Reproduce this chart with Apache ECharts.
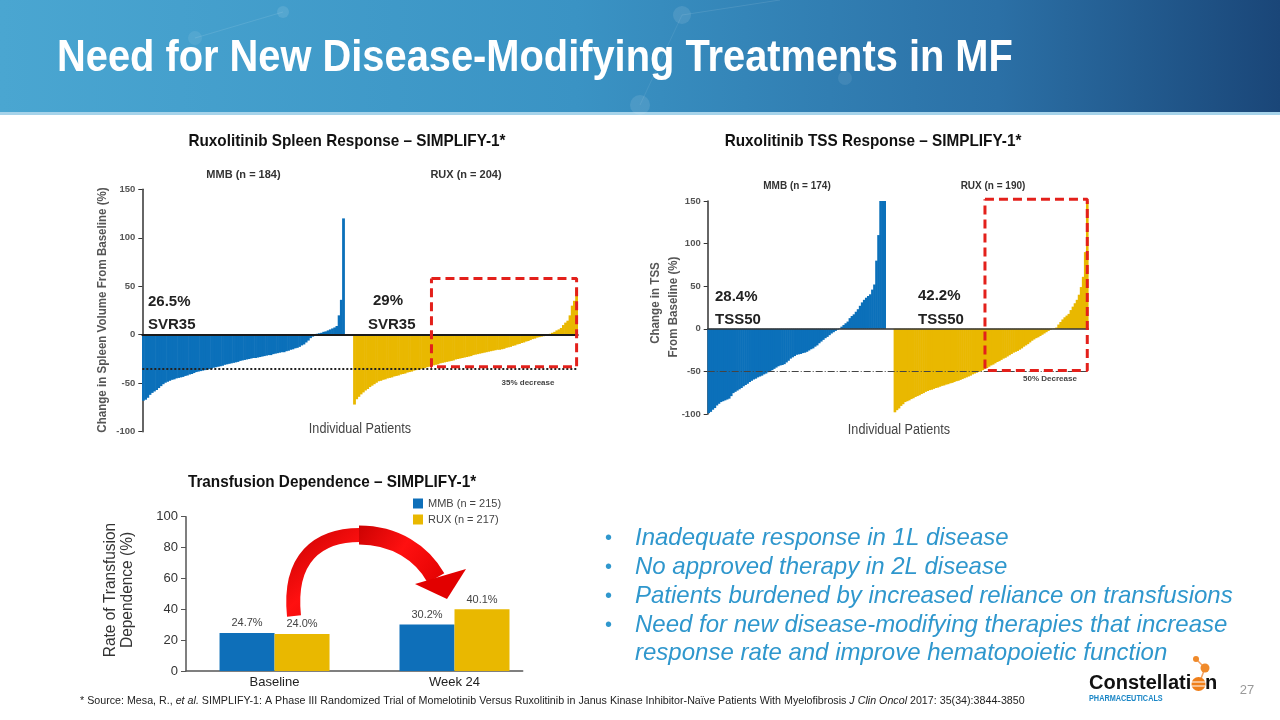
<!DOCTYPE html>
<html><head><meta charset="utf-8">
<script src="https://cdn.jsdelivr.net/npm/echarts@6/dist/echarts.min.js"></script>
<style>html,body{margin:0;padding:0;background:#fff}#c{width:1280px;height:720px}</style>
</head><body><div id="c"></div>
<script>
// ---- Data (each waterfall bar ≈ 2 patients, sorted) ----
const spleenMMB = [-68,-67,-65,-62,-60,-58.5,-57,-55,-53,-51,
 -49.5,-48.5,-47.5,-46.5,-46,-45,-44.5,-44,-43.5,-42.5,
 -42,-41,-40.5,-39.5,-38.5,-38,-37.5,-37,-36.5,-36,
 -35.5,-35,-34,-33.5,-33,-32.5,-32,-31,-30.5,-30,
 -29.5,-29,-28.5,-28,-27,-26.5,-26,-25.5,-25,-24.5,
 -24,-24,-23.5,-23,-22.5,-22,-21.5,-21,-21,-20,
 -19.5,-19,-18.5,-18,-18,-17,-16.5,-15.5,-15,-14,
 -13.5,-12.5,-11,-10,-8,-6,-3.5,-2,-0.5,1,
 1.5,2,3,3.5,4.5,5.5,6.5,7.5,9,20,
 36,120];
const spleenRUX = [-72,-66.5,-64,-61.5,-59.5,-57.5,-56,-54,-52.5,-51,
 -49.5,-48,-47.5,-46.5,-46,-45,-44.5,-44,-43,-42.5,
 -42,-41,-40.5,-40,-39,-38.5,-38,-37,-36.5,-36,
 -35.5,-35,-34.5,-33.5,-33,-32.5,-31.5,-31,-30.5,-29.5,
 -29,-28.5,-28,-27.5,-27,-26.5,-25.5,-25,-24.5,-24,
 -23.5,-23,-22.5,-22,-21,-20.5,-20,-19.5,-19,-18.5,
 -18,-17.5,-17,-16.5,-16,-15.5,-15.5,-15,-14.5,-13.5,
 -13,-12.5,-11.5,-11,-10,-9.5,-8.5,-8,-7,-6.5,
 -5.5,-4.5,-4,-3,-2.5,-2,-1.5,-1,-0.3,1,
 2,3,4.5,5.5,7,10,12.5,14.5,20,30,
 35,48];
const tssMMB = [-99,-97.5,-95,-93,-90,-88,-86,-85,-84,-83,
 -82,-79,-75.5,-74,-72.5,-71,-69.5,-67.5,-66,-64.5,
 -62.5,-61,-59.5,-58.5,-57,-56,-55,-53.5,-52.5,-51,
 -50,-48.5,-47,-45.5,-44,-43,-42.5,-41.5,-39.5,-37.5,
 -35,-33.5,-32,-30.5,-30,-29.5,-28.5,-28,-27,-25.5,
 -24,-23,-21,-19.5,-17,-15,-13,-11,-9.5,-7.5,
 -5.5,-4,-2.5,-1,0.5,2.5,4.5,6.5,8.5,12.5,
 15,17,20,23,27,31,34,36.5,38.5,40.5,
 46,52,80,110,150,150,150];
const tssRUX = [-98,-95.5,-93.5,-90.5,-88.5,-86,-85,-84,-82.5,-81.5,
 -80,-79,-78,-76.5,-75.5,-74,-73,-72,-71.5,-70.5,
 -69.5,-69,-68,-67,-66.5,-65.5,-65,-64,-63.5,-62.5,
 -61.5,-61,-60,-59,-58,-57,-56,-55,-53.5,-52.5,
 -51.5,-50.5,-50,-48.5,-47,-46,-44.5,-43,-42,-40.5,
 -39,-38,-36.5,-35,-34,-32.5,-31,-29.5,-28,-27,
 -26,-24.5,-23,-21,-19.5,-18,-16,-14,-12.5,-11,
 -10,-8.5,-7,-5.5,-4,-2.5,-1,-0.3,0.5,1.5,
 5,8,11,13.5,15.5,17.5,22,26,30,34,
 40,49,61,90,150];
const groupGap = 4;
const spleenThreshold = -35;
const tssThreshold = -50;
const spleenBox = { firstRux: 35, top: 58, bottom: -33 };   // highlighted region (RUX bars)
const tssBox = { firstRux: 44, top: 152, bottom: -49 };
const tdCategories = ['Baseline', 'Week 24'];
const tdMMB = [24.7, 30.2];
const tdRUX = [24.0, 40.1];
const tdNames = ['MMB (n = 215)', 'RUX (n = 217)'];

const BLUE = '#0b70ba', YELLOW = '#e9b800', RED = '#e3201b';
const FONT = 'Liberation Sans, Arial, sans-serif';

function buildWF(mmb, rux) {
  const cats = [], m = [], r = [];
  mmb.forEach((v, i) => { m.push([cats.length, v]); cats.push('M' + (i + 1)); });
  for (let i = 0; i < groupGap; i++) cats.push('G' + (i + 1));
  const ruxStart = cats.length;
  rux.forEach((v, i) => { r.push([cats.length, v]); cats.push('R' + (i + 1)); });
  return { cats, m, r, ruxStart, last: cats.length - 1 };
}
const sp = buildWF(spleenMMB, spleenRUX);
const ts = buildWF(tssMMB, tssRUX);

function boxData(wf, box) {
  const a = wf.ruxStart + box.firstRux, b = wf.last;
  return [[a, box.top], [b, box.top], [b, box.bottom], [a, box.bottom], [a, box.top]];
}

function T(text, x, y, o) {
  o = o || {};
  return { type: 'text', x, y, scaleX: o.sx || 1, rotation: o.rot || 0, silent: true, z: 20,
    style: { text, fill: o.color || '#222', fontSize: o.size || 12, fontWeight: o.weight || 'normal',
      fontStyle: o.style || 'normal', fontFamily: FONT, align: o.align || 'left', verticalAlign: 'middle' } };
}

const waterY = (gi) => ({ gridIndex: gi, type: 'value', min: -100, max: 150, interval: 50,
  axisLine: { show: true, onZero: false, lineStyle: { color: '#333', width: 1.5 } },
  axisTick: { show: true, length: 4, lineStyle: { color: '#333', width: 1 } },
  axisLabel: { color: '#555', fontSize: 9.5, fontFamily: FONT, margin: 7, fontWeight: 'bold' },
  splitLine: { show: false } });

// waterfall bars: one rect per value, placed by the axes (slightly widened so adjacent bars leave no seams)
const wfBars = (name, gi, data, color) => ({
  type: 'custom', name, xAxisIndex: gi, yAxisIndex: gi, data, silent: true, z: 2,
  encode: { x: 0, y: 1 },
  renderItem: (params, api) => {
    const i = api.value(0), v = api.value(1);
    const p0 = api.coord([i, 0]), p1 = api.coord([i, v]);
    const bw = api.size([1, 0])[0];
    return { type: 'rect', shape: { x: p0[0] - bw / 2 - 0.3, y: Math.min(p0[1], p1[1]), width: bw + 0.6,
      height: Math.abs(p1[1] - p0[1]) }, style: { fill: color } };
  }
});
const boxSeries = (name, gi, data, thr, lineType, lineColor, lineW) => ({
  type: 'line', name, xAxisIndex: gi, yAxisIndex: gi, data, symbol: 'none', clip: false, silent: true, z: 5,
  lineStyle: { color: RED, width: 3, type: [9, 5] },
  markLine: { silent: true, symbol: 'none', label: { show: false },
    lineStyle: { type: lineType, color: lineColor, width: lineW }, data: [{ yAxis: thr }] }
});

const arrowFill = new echarts.graphic.LinearGradient(0, 0, 1, 1, [
  { offset: 0, color: '#c40000' }, { offset: 0.5, color: '#ff1010' }, { offset: 1, color: '#e00000' }]);

const option = {
  animation: false,
  grid: [
    { left: 142.3, top: 189.3, width: 435.4, height: 242.4 },
    { left: 707.7, top: 201, width: 380.6, height: 213 },
    { left: 186, top: 516.7, width: 336.7, height: 154.3 }
  ],
  xAxis: [
    { gridIndex: 0, type: 'category', data: sp.cats, axisLine: { onZero: true, lineStyle: { color: '#1a1a1a', width: 2 } },
      axisTick: { show: false }, axisLabel: { show: false }, z: 3 },
    { gridIndex: 1, type: 'category', data: ts.cats, axisLine: { onZero: true, lineStyle: { color: '#333', width: 1.5 } },
      axisTick: { show: false }, axisLabel: { show: false }, z: 3 },
    { gridIndex: 2, type: 'value', min: -0.492, max: 1.379, splitLine: { show: false },
      axisLine: { show: true, onZero: false, lineStyle: { color: '#555', width: 1.5 } }, axisTick: { show: false },
      axisLabel: { customValues: [0, 1], formatter: v => tdCategories[Math.round(v)], color: '#222',
        fontSize: 13, fontFamily: FONT, margin: 5 } }
  ],
  yAxis: [
    waterY(0), waterY(1),
    { gridIndex: 2, type: 'value', min: 0, max: 100, interval: 20,
      axisLine: { show: true, onZero: false, lineStyle: { color: '#555', width: 1.5 } },
      axisTick: { show: true, length: 5, lineStyle: { color: '#555' } },
      axisLabel: { color: '#333', fontSize: 13, fontFamily: FONT, margin: 8 }, splitLine: { show: false } }
  ],
  legend: { data: tdNames, left: 413, top: 498, padding: 0, orient: 'vertical', itemWidth: 10, itemHeight: 10, itemGap: 5,
    icon: 'rect', selectedMode: false, textStyle: { fontSize: 11, color: '#444', fontFamily: FONT } },
  series: [
    wfBars('Spleen MMB', 0, sp.m, BLUE),
    wfBars('Spleen RUX', 0, sp.r, YELLOW),
    boxSeries('Spleen highlight', 0, boxData(sp, spleenBox), spleenThreshold, 'dotted', '#222', 2),
    wfBars('TSS MMB', 1, ts.m, BLUE),
    wfBars('TSS RUX', 1, ts.r, YELLOW),
    boxSeries('TSS highlight', 1, boxData(ts, tssBox), tssThreshold, [7, 2, 1, 2], '#444', 1),
    { type: 'bar', name: tdNames[0], xAxisIndex: 2, yAxisIndex: 2, barWidth: 55, barGap: '0%',
      data: tdCategories.map((c, i) => [i, tdMMB[i]]), itemStyle: { color: '#0e6fb9' },
      label: { show: true, position: 'top', distance: 4, formatter: p => p.value[1].toFixed(1) + '%',
        color: '#444', fontSize: 11, fontFamily: FONT } },
    { type: 'bar', name: tdNames[1], xAxisIndex: 2, yAxisIndex: 2, barWidth: 55, barGap: '0%',
      data: tdCategories.map((c, i) => [i, tdRUX[i]]), itemStyle: { color: YELLOW },
      label: { show: true, position: 'top', distance: 4, formatter: p => p.value[1].toFixed(1) + '%',
        color: '#444', fontSize: 11, fontFamily: FONT } }
  ],
  graphic: { elements: [
    { type: 'rect', silent: true, z: 1, shape: { x: 0, y: 0, width: 1280, height: 113 },
      style: { fill: new echarts.graphic.LinearGradient(0, 0, 1, 0, [
        { offset: 0, color: '#4aa6d1' }, { offset: 0.45, color: '#3a93c4' },
        { offset: 0.78, color: '#2b70a6' }, { offset: 1, color: '#1a4678' }]) } },
    { type: 'rect', silent: true, z: 1, shape: { x: 0, y: 112, width: 1280, height: 3 }, style: { fill: '#a6d3ea' } },
    { type: 'circle', silent: true, z: 2, shape: { cx: 283, cy: 12, r: 6 }, style: { fill: 'rgba(255,255,255,0.10)' } },
    { type: 'circle', silent: true, z: 2, shape: { cx: 682, cy: 15, r: 9 }, style: { fill: 'rgba(255,255,255,0.10)' } },
    { type: 'circle', silent: true, z: 2, shape: { cx: 640, cy: 105, r: 10 }, style: { fill: 'rgba(255,255,255,0.10)' } },
    { type: 'circle', silent: true, z: 2, shape: { cx: 845, cy: 78, r: 7 }, style: { fill: 'rgba(255,255,255,0.08)' } },
    { type: 'circle', silent: true, z: 2, shape: { cx: 195, cy: 38, r: 7 }, style: { fill: 'rgba(255,255,255,0.08)' } },
    { type: 'line', silent: true, z: 2, shape: { x1: 283, y1: 12, x2: 195, y2: 38 }, style: { stroke: 'rgba(255,255,255,0.10)', lineWidth: 1 } },
    { type: 'line', silent: true, z: 2, shape: { x1: 682, y1: 15, x2: 780, y2: 0 }, style: { stroke: 'rgba(255,255,255,0.10)', lineWidth: 1 } },
    { type: 'line', silent: true, z: 2, shape: { x1: 682, y1: 15, x2: 640, y2: 105 }, style: { stroke: 'rgba(255,255,255,0.08)', lineWidth: 1 } },
    T('Need for New Disease-Modifying Treatments in MF', 57, 59, { size: 44, weight: 'bold', color: '#fff', sx: 0.905 }),

    T('Ruxolitinib Spleen Response – SIMPLIFY-1*', 347, 141, { size: 17, weight: 'bold', color: '#111', sx: 0.9, align: 'center' }),
    T('Ruxolitinib TSS Response – SIMPLIFY-1*', 873, 141, { size: 17, weight: 'bold', color: '#111', sx: 0.9, align: 'center' }),
    T('Transfusion Dependence – SIMPLIFY-1*', 332, 482, { size: 17, weight: 'bold', color: '#111', sx: 0.9, align: 'center' }),

    T('MMB (n = 184)', 243.5, 175, { size: 11, weight: 'bold', color: '#333', align: 'center' }),
    T('RUX (n = 204)', 466, 175, { size: 11, weight: 'bold', color: '#333', align: 'center' }),
    T('MMB (n = 174)', 797, 186, { size: 10, weight: 'bold', color: '#333', align: 'center' }),
    T('RUX (n = 190)', 993, 186, { size: 10, weight: 'bold', color: '#333', align: 'center' }),

    T('26.5%', 148, 302, { size: 15, weight: 'bold', color: '#222' }),
    T('SVR35', 148, 325, { size: 15, weight: 'bold', color: '#222' }),
    T('29%', 373, 301, { size: 15, weight: 'bold', color: '#222' }),
    T('SVR35', 368, 325, { size: 15, weight: 'bold', color: '#222' }),
    T('28.4%', 715, 297, { size: 15, weight: 'bold', color: '#222' }),
    T('TSS50', 715, 320, { size: 15, weight: 'bold', color: '#222' }),
    T('42.2%', 918, 296, { size: 15, weight: 'bold', color: '#222' }),
    T('TSS50', 918, 320, { size: 15, weight: 'bold', color: '#222' }),

    T('35% decrease', 528, 383, { size: 8, weight: 'bold', color: '#444', align: 'center' }),
    T('50% Decrease', 1050, 379, { size: 8, weight: 'bold', color: '#444', align: 'center' }),
    T('Individual Patients', 360, 429, { size: 14, color: '#444', sx: 0.9, align: 'center' }),
    T('Individual Patients', 899, 430, { size: 14, color: '#444', sx: 0.9, align: 'center' }),

    T('Change in Spleen Volume From Baseline (%)', 102.5, 310, { size: 13, weight: 'bold', color: '#555', sx: 0.89, rot: Math.PI / 2, align: 'center' }),
    T('Change in TSS', 655, 303, { size: 13, weight: 'bold', color: '#555', sx: 0.89, rot: Math.PI / 2, align: 'center' }),
    T('From Baseline (%)', 673, 307, { size: 13, weight: 'bold', color: '#555', sx: 0.89, rot: Math.PI / 2, align: 'center' }),
    T('Rate of Transfusion', 110, 590, { size: 17, color: '#333', sx: 0.91, rot: Math.PI / 2, align: 'center' }),
    T('Dependence (%)', 127, 590, { size: 17, color: '#333', sx: 0.91, rot: Math.PI / 2, align: 'center' }),

    // curved red arrow (decoration)
    { type: 'bezierCurve', silent: true, z: 15,
      shape: { x1: 294, y1: 616, cpx1: 288, cpy1: 558, cpx2: 318, cpy2: 535, x2: 360, y2: 535 },
      style: { stroke: arrowFill, lineWidth: 14, fill: null, lineCap: 'butt' } },
    { type: 'bezierCurve', silent: true, z: 15,
      shape: { x1: 359, y1: 535, cpx1: 395, cpy1: 535, cpx2: 422, cpy2: 553, x2: 436, y2: 578 },
      style: { stroke: arrowFill, lineWidth: 19, fill: null, lineCap: 'butt' } },
    { type: 'polygon', silent: true, z: 15,
      shape: { points: [[415, 584], [466, 569], [447, 599]] }, style: { fill: '#e20000' } },

    T('•', 605, 538, { size: 20, color: '#2f97cd' }),
    T('•', 605, 567, { size: 20, color: '#2f97cd' }),
    T('•', 605, 596, { size: 20, color: '#2f97cd' }),
    T('•', 605, 625, { size: 20, color: '#2f97cd' }),
    T('Inadequate response in 1L disease', 635, 538, { size: 24, style: 'italic', color: '#2f97cd' }),
    T('No approved therapy in 2L disease', 635, 567, { size: 24, style: 'italic', color: '#2f97cd' }),
    T('Patients burdened by increased reliance on transfusions', 635, 596, { size: 24, style: 'italic', color: '#2f97cd' }),
    T('Need for new disease-modifying therapies that increase', 635, 625, { size: 24, style: 'italic', color: '#2f97cd' }),
    T('response rate and improve hematopoietic function', 635, 653, { size: 24, style: 'italic', color: '#2f97cd' }),

    { type: 'text', x: 80, y: 701, scaleX: 0.972, silent: true, z: 20,
      style: { text: '{a|* Source: Mesa, R., }{i|et al.}{a| SIMPLIFY-1: A Phase III Randomized Trial of Momelotinib Versus Ruxolitinib in Janus Kinase Inhibitor-Naïve Patients With Myelofibrosis }{i|J Clin Oncol}{a| 2017: 35(34):3844-3850}',
        verticalAlign: 'middle', fontFamily: FONT,
        rich: { a: { fontSize: 11, fill: '#222', fontFamily: FONT }, i: { fontSize: 11, fill: '#222', fontStyle: 'italic', fontFamily: FONT } } } },
    T('27', 1247, 690, { size: 13, color: '#999', align: 'center' }),

    T('Constellati', 1089, 683, { size: 20, weight: 'bold', color: '#111' }),
    T('n', 1205, 683, { size: 20, weight: 'bold', color: '#111' }),
    { type: 'line', silent: true, z: 19, shape: { x1: 1196, y1: 659, x2: 1205, y2: 668 }, style: { stroke: '#f3a060', lineWidth: 1.5 } },
    { type: 'line', silent: true, z: 19, shape: { x1: 1205, y1: 668, x2: 1199, y2: 684 }, style: { stroke: '#f3a060', lineWidth: 1.5 } },
    { type: 'circle', silent: true, z: 20, shape: { cx: 1196, cy: 659, r: 3 }, style: { fill: '#f08a2a' } },
    { type: 'circle', silent: true, z: 20, shape: { cx: 1205, cy: 668, r: 4.5 }, style: { fill: '#f08a2a' } },
    { type: 'circle', silent: true, z: 20, shape: { cx: 1198.5, cy: 684, r: 7 }, style: { fill: '#ef7f1a' } },
    { type: 'line', silent: true, z: 21, shape: { x1: 1192, y1: 682, x2: 1205, y2: 682 }, style: { stroke: '#fff', lineWidth: 1 } },
    { type: 'line', silent: true, z: 21, shape: { x1: 1192, y1: 686, x2: 1205, y2: 686 }, style: { stroke: '#fff', lineWidth: 1 } },
    T('PHARMACEUTICALS', 1089, 699, { size: 9, weight: 'bold', color: '#1a86c6', sx: 0.81 })
  ] }
};
const chart = echarts.init(document.getElementById('c'), null, { renderer: 'canvas' });
chart.setOption(option);
</script></body></html>
